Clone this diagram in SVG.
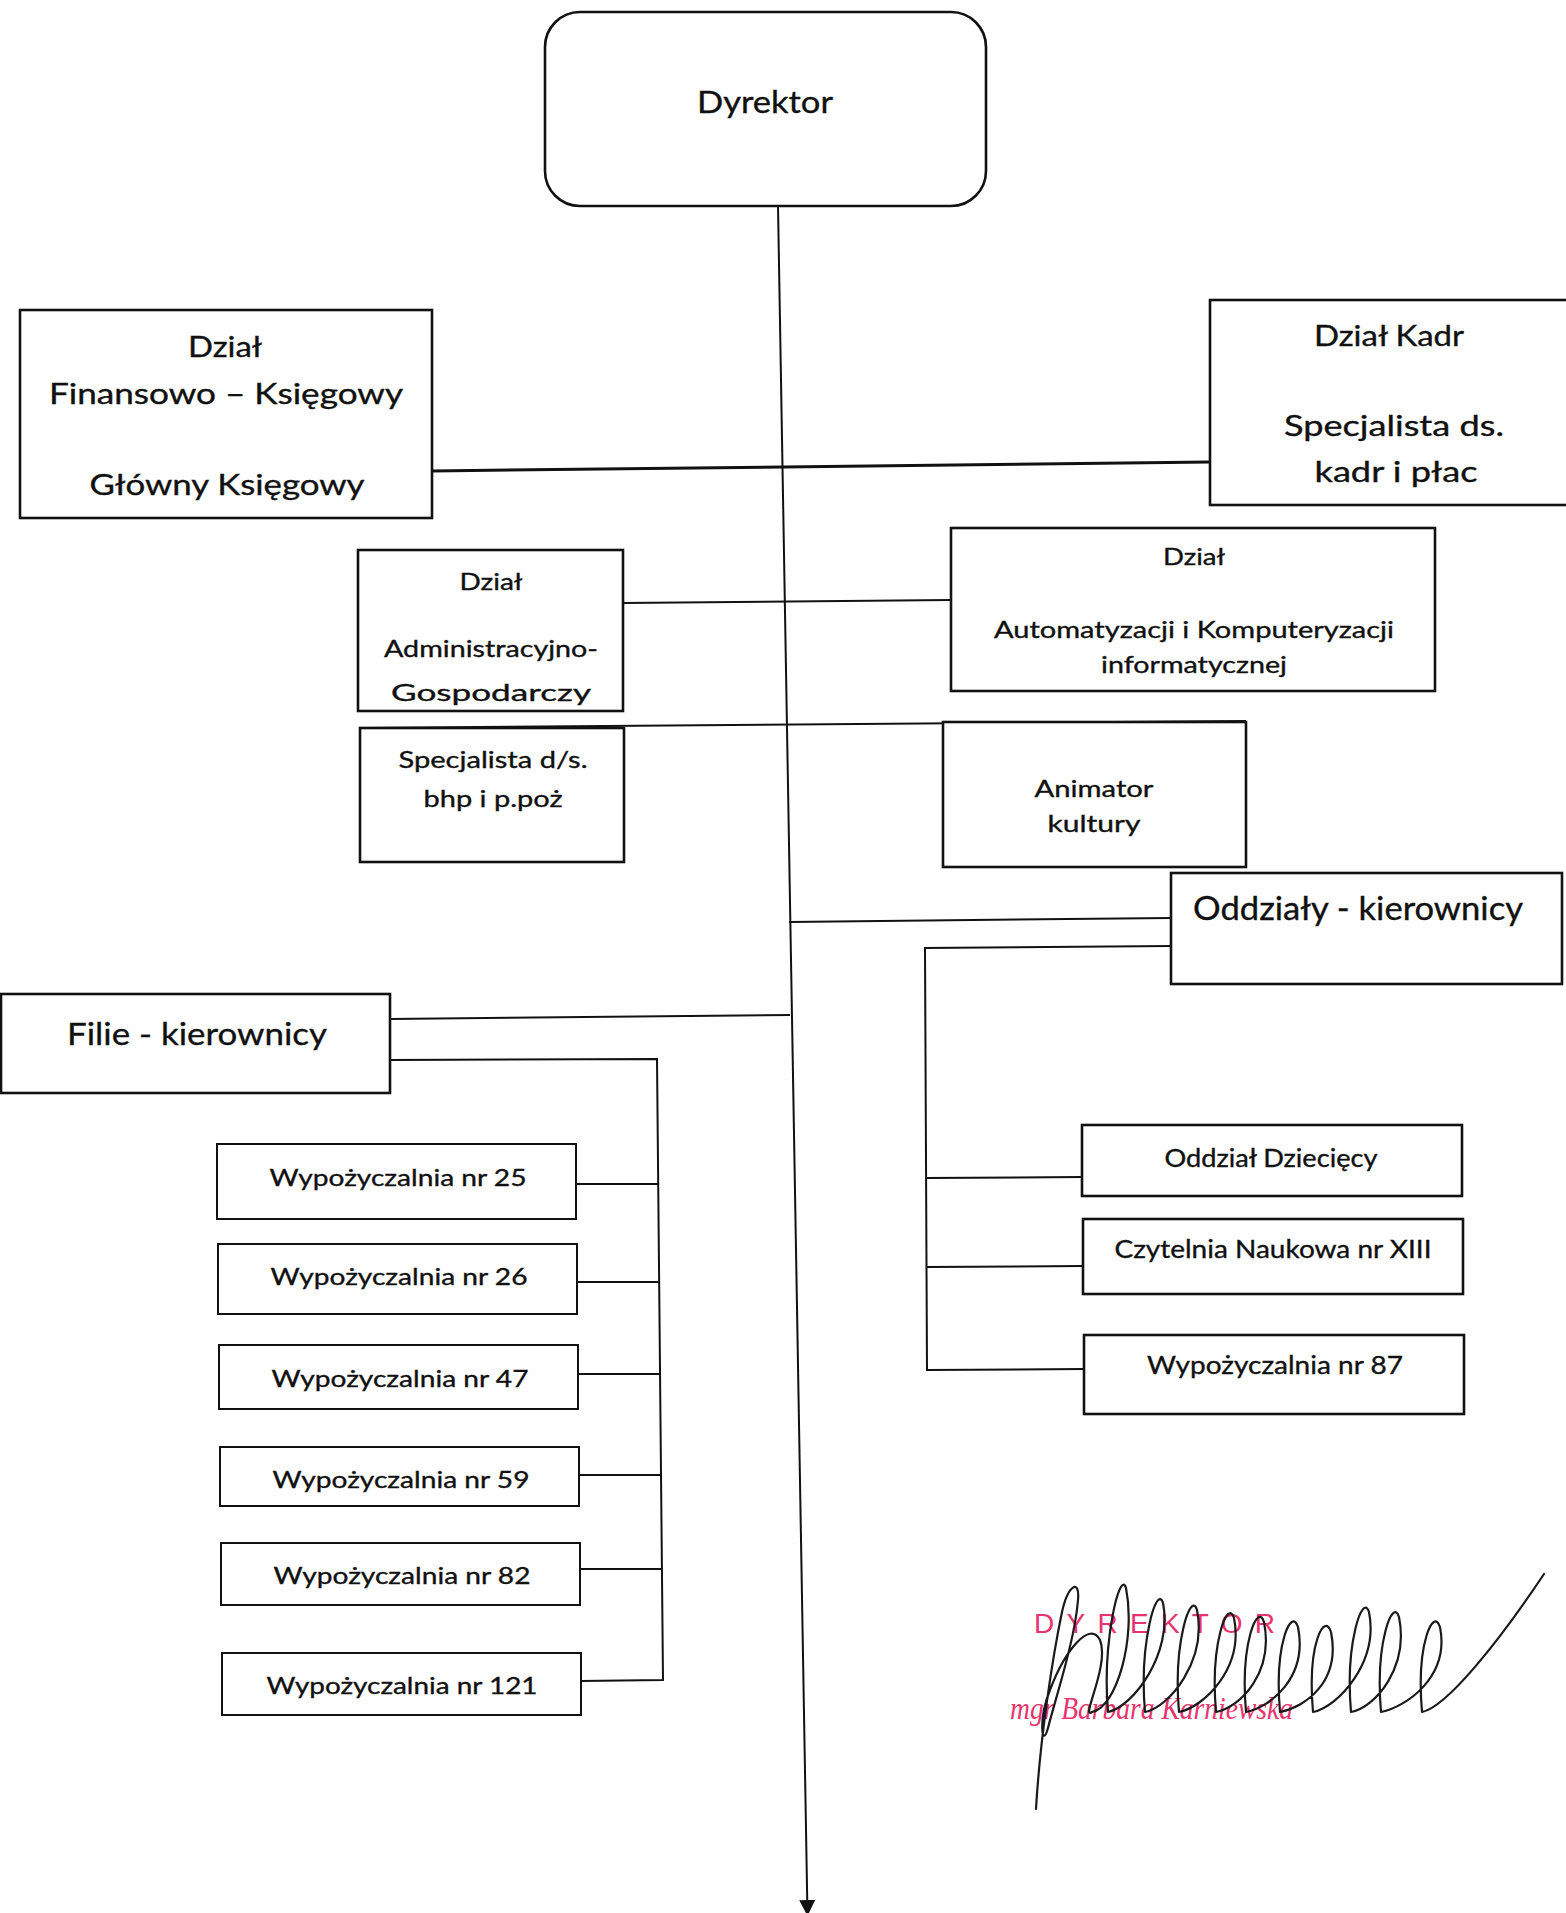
<svg xmlns="http://www.w3.org/2000/svg" width="1566" height="1913" viewBox="0 0 1566 1913">
<style>
.box{fill:#fff;stroke:#111;stroke-width:2.6}
.sm{stroke-width:2}
.t{font-family:Lato,"Open Sans","Liberation Sans",sans-serif;fill:#111;stroke:#111;stroke-width:0.35;text-anchor:middle}
.conn{stroke:#111;stroke-width:2;fill:none}
.thick{stroke-width:3}
.stamp{font-family:"Liberation Sans",Arial,sans-serif;fill:#e8336e}
.stamp2{font-family:"Liberation Serif","Times New Roman",serif;font-style:italic;fill:#e8336e}
</style>
<defs>
<marker id="arrow" viewBox="0 0 10 10" refX="10" refY="5" markerWidth="16" markerHeight="18" markerUnits="userSpaceOnUse" orient="auto">
<path d="M0,0 L10,5 L0,10 z" fill="#111"/>
</marker>
<clipPath id="clipAdm"><rect x="358" y="550" width="265" height="156"/></clipPath>
</defs>
<rect width="1566" height="1913" fill="#fff"/>

<g id="connectors">
<line class="conn" x1="778" y1="206" x2="807.5" y2="1916" marker-end="url(#arrow)"/>
<line class="conn thick" x1="432" y1="471" x2="1210" y2="462"/>
<line class="conn" x1="623" y1="603" x2="951" y2="600" stroke-width="2.5"/>
<line class="conn" x1="360" y1="728" x2="1246" y2="721" stroke-width="2.5"/>
<line class="conn" x1="789" y1="922" x2="1171" y2="918"/>
<path class="conn" d="M1171,946 L925,948 L927,1370 L1084,1369"/>
<line class="conn" x1="926" y1="1178" x2="1082" y2="1177"/>
<line class="conn" x1="926" y1="1267" x2="1083" y2="1266"/>
<line class="conn" x1="390" y1="1019" x2="790" y2="1015"/>
<path class="conn" d="M390,1060 L657,1059 L663,1680 L581,1681"/>
<line class="conn" x1="576" y1="1184" x2="659" y2="1184"/>
<line class="conn" x1="577" y1="1282" x2="660" y2="1282"/>
<line class="conn" x1="578" y1="1374" x2="661" y2="1374"/>
<line class="conn" x1="579" y1="1475" x2="662" y2="1475"/>
<line class="conn" x1="580" y1="1569" x2="662" y2="1569"/>
</g>

<g id="dyrektor">
<rect class="box" x="545" y="12" width="441" height="194" rx="35"/>
<text class="t" x="765" y="113" font-size="30" textLength="136" lengthAdjust="spacingAndGlyphs">Dyrektor</text>
</g>

<g id="dzial-finansowo-ksiegowy">
<rect class="box" x="20" y="310" width="412" height="208" stroke-width="3"/>
<text class="t" x="225" y="357" font-size="28" textLength="74" lengthAdjust="spacingAndGlyphs">Dział</text>
<text class="t" x="226" y="404" font-size="28" textLength="354" lengthAdjust="spacingAndGlyphs">Finansowo – Księgowy</text>
<text class="t" x="227" y="495" font-size="28" textLength="275" lengthAdjust="spacingAndGlyphs">Główny Księgowy</text>
</g>

<g id="dzial-kadr">
<rect class="box" x="1210" y="300" width="372" height="205" stroke-width="3"/>
<text class="t" x="1389" y="346" font-size="28" textLength="150" lengthAdjust="spacingAndGlyphs">Dział Kadr</text>
<text class="t" x="1394" y="436" font-size="28" textLength="220" lengthAdjust="spacingAndGlyphs">Specjalista ds.</text>
<text class="t" x="1396" y="482" font-size="28" textLength="163" lengthAdjust="spacingAndGlyphs">kadr i płac</text>
</g>

<g id="dzial-administracyjno-gospodarczy">
<rect class="box" x="358" y="550" width="265" height="161"/>
<g clip-path="url(#clipAdm)">
<text class="t" x="491" y="590" font-size="23" textLength="63" lengthAdjust="spacingAndGlyphs">Dział</text>
<text class="t" x="491" y="657" font-size="23" textLength="214" lengthAdjust="spacingAndGlyphs">Administracyjno-</text>
<text class="t" x="491" y="701" font-size="23" textLength="200" lengthAdjust="spacingAndGlyphs">Gospodarczy</text>
</g>
</g>

<g id="dzial-automatyzacji">
<rect class="box" x="951" y="528" width="484" height="163"/>
<text class="t" x="1194" y="565" font-size="23" textLength="62" lengthAdjust="spacingAndGlyphs">Dział</text>
<text class="t" x="1194" y="638" font-size="23" textLength="400" lengthAdjust="spacingAndGlyphs">Automatyzacji  i Komputeryzacji</text>
<text class="t" x="1194" y="673" font-size="23" textLength="186" lengthAdjust="spacingAndGlyphs">informatycznej</text>
</g>

<g id="specjalista-bhp">
<rect class="box" x="360" y="728" width="264" height="134"/>
<text class="t" x="493" y="768" font-size="23" textLength="189" lengthAdjust="spacingAndGlyphs">Specjalista d/s.</text>
<text class="t" x="493" y="807" font-size="23" textLength="139" lengthAdjust="spacingAndGlyphs">bhp i p.poż</text>
</g>

<g id="animator-kultury">
<rect class="box" x="943" y="722" width="303" height="145"/>
<text class="t" x="1094" y="797" font-size="23" textLength="119" lengthAdjust="spacingAndGlyphs">Animator</text>
<text class="t" x="1094" y="832" font-size="23" textLength="93" lengthAdjust="spacingAndGlyphs">kultury</text>
</g>

<g id="oddzialy-kierownicy">
<rect class="box" x="1171" y="873" width="391" height="111"/>
<text class="t" x="1358" y="920" font-size="32" textLength="330" lengthAdjust="spacingAndGlyphs">Oddziały - kierownicy</text>
</g>

<g id="filie-kierownicy">
<rect class="box" x="1" y="994" width="389" height="99"/>
<text class="t" x="197" y="1045" font-size="31" textLength="260" lengthAdjust="spacingAndGlyphs">Filie - kierownicy</text>
</g>

<g id="wyp-25">
<rect class="box sm" x="217" y="1144" width="359" height="75"/>
<text class="t" x="398" y="1186" font-size="23" textLength="257" lengthAdjust="spacingAndGlyphs">Wypożyczalnia nr 25</text>
</g>
<g id="wyp-26">
<rect class="box sm" x="218" y="1244" width="359" height="70"/>
<text class="t" x="399" y="1285" font-size="23" textLength="257" lengthAdjust="spacingAndGlyphs">Wypożyczalnia nr 26</text>
</g>
<g id="wyp-47">
<rect class="box sm" x="219" y="1345" width="359" height="64"/>
<text class="t" x="400" y="1387" font-size="23" textLength="257" lengthAdjust="spacingAndGlyphs">Wypożyczalnia nr 47</text>
</g>
<g id="wyp-59">
<rect class="box sm" x="220" y="1447" width="359" height="59"/>
<text class="t" x="401" y="1488" font-size="23" textLength="257" lengthAdjust="spacingAndGlyphs">Wypożyczalnia nr 59</text>
</g>
<g id="wyp-82">
<rect class="box sm" x="221" y="1543" width="359" height="62"/>
<text class="t" x="402" y="1584" font-size="23" textLength="257" lengthAdjust="spacingAndGlyphs">Wypożyczalnia nr 82</text>
</g>
<g id="wyp-121">
<rect class="box sm" x="222" y="1653" width="359" height="62"/>
<text class="t" x="402" y="1694" font-size="23" textLength="271" lengthAdjust="spacingAndGlyphs">Wypożyczalnia nr 121</text>
</g>

<g id="oddzial-dzieciecy">
<rect class="box" x="1082" y="1125" width="380" height="71"/>
<text class="t" x="1271" y="1167" font-size="25" textLength="213" lengthAdjust="spacingAndGlyphs">Oddział Dziecięcy</text>
</g>
<g id="czytelnia-naukowa">
<rect class="box" x="1083" y="1219" width="380" height="75"/>
<text class="t" x="1273" y="1258" font-size="25" textLength="317" lengthAdjust="spacingAndGlyphs">Czytelnia Naukowa nr XIII</text>
</g>
<g id="wyp-87">
<rect class="box" x="1084" y="1335" width="380" height="79"/>
<text class="t" x="1275" y="1374" font-size="25" textLength="256" lengthAdjust="spacingAndGlyphs">Wypożyczalnia nr 87</text>
</g>

<g id="signature">
<text class="stamp" x="1034" y="1633" font-size="28" textLength="241">DYREKTOR</text>
<text class="stamp2" x="1010" y="1719" font-size="32" textLength="283" lengthAdjust="spacingAndGlyphs">mgr Barbara Karniewska</text>
<path fill="none" stroke="#1a1a1a" stroke-width="2.2" stroke-linecap="round" stroke-linejoin="round" d="M1036,1809 C1040,1740 1052,1660 1062,1612 C1068,1585 1080,1578 1078,1600 C1075,1640 1055,1700 1048,1728 C1042,1750 1038,1720 1050,1690 C1065,1650 1090,1620 1100,1640 C1110,1665 1080,1720 1092,1712 C1117,1707 1136,1638 1126,1588 C1120,1568 1102,1642 1108,1712 C1133,1707 1173,1653 1163,1603 C1157,1583 1139,1642 1145,1712 C1170,1707 1207,1660 1197,1610 C1191,1590 1173,1642 1179,1712 C1204,1707 1244,1668 1234,1618 C1228,1598 1210,1642 1216,1712 C1241,1707 1274,1672 1264,1622 C1258,1602 1240,1642 1246,1712 C1271,1707 1308,1677 1298,1627 C1292,1607 1274,1642 1280,1712 C1305,1707 1341,1682 1331,1632 C1325,1612 1307,1642 1313,1712 C1338,1707 1379,1662 1369,1612 C1363,1592 1345,1642 1351,1712 C1376,1707 1409,1667 1399,1617 C1393,1597 1375,1642 1381,1712 C1406,1707 1450,1677 1440,1627 C1434,1607 1416,1642 1422,1712 C1447,1707 1500,1640 1544,1574"/>
</g>
</svg>
